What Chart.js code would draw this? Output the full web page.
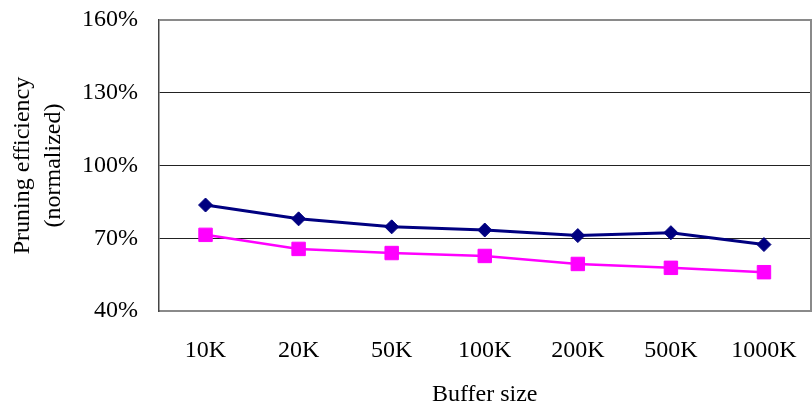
<!DOCTYPE html>
<html>
<head>
<meta charset="utf-8">
<script src="https://cdn.jsdelivr.net/npm/chart.js@4/dist/chart.umd.min.js"></script>
<style>
  html, body { margin: 0; padding: 0; background: #fff; overflow: hidden; }
  #frame { width: 812px; height: 414px; overflow: hidden; position: relative; }
  /* slightly wider than the frame so the plot's right edge sits at the frame edge */
  #wrap { width: 821px; height: 414px; position: relative; }
</style>
</head>
<body>
<div id="frame"><div id="wrap"><canvas id="c"></canvas></div></div>
<script>
// Buffer sizes on the x axis
const bufferSizes = ['10K', '20K', '50K', '100K', '200K', '500K', '1000K'];
// Normalized pruning efficiency (%) for the two runs
const seriesUpper = [83.7, 78.0, 74.7, 73.4, 71.1, 72.3, 67.4];
const seriesLower = [71.4, 65.6, 63.9, 62.7, 59.4, 57.8, 56.0];
// Y axis tick values (%)
const yTicks = [40, 70, 100, 130, 160];

const serif = 'Liberation Serif, Times New Roman, serif';

new Chart(document.getElementById('c'), {
  type: 'line',
  data: {
    labels: bufferSizes,
    datasets: [
      {
        label: 'Series 1',
        data: seriesUpper,
        borderColor: '#000080',
        backgroundColor: '#000080',
        borderWidth: 3,
        pointStyle: 'rectRot',
        pointRadius: 7,
        pointBorderWidth: 1,
        tension: 0
      },
      {
        label: 'Series 2',
        data: seriesLower,
        borderColor: '#FF00FF',
        backgroundColor: '#FF00FF',
        borderWidth: 2.5,
        pointStyle: 'rect',
        pointRadius: 9.5,
        pointBorderWidth: 1,
        tension: 0
      }
    ]
  },
  options: {
    responsive: true,
    maintainAspectRatio: false,
    animation: false,
    devicePixelRatio: 1,
    layout: { padding: { top: 20, right: 1, left: 0, bottom: 0 } },
    plugins: { legend: { display: false }, tooltip: { enabled: false } },
    scales: {
      x: {
        offset: true,
        grid: { display: false, drawTicks: false },
        border: { color: '#8a8a8a', width: 2 },
        ticks: {
          color: '#000',
          font: { family: serif, size: 24 },
          padding: 25,
          maxRotation: 0,
          autoSkip: false
        },
        title: {
          display: true,
          text: 'Buffer size',
          color: '#000',
          font: { family: serif, size: 24 },
          padding: { top: 8, bottom: 5 }
        },
        afterFit: (s) => { s.height = 103; s.paddingLeft = 0; s.paddingRight = 0; }
      },
      y: {
        min: 40,
        max: 160,
        afterBuildTicks: (s) => { s.ticks = yTicks.map(v => ({ value: v })); },
        grid: {
          drawTicks: false,
          color: (ctx) => ctx.tick && ctx.tick.value === 160 ? '#8a8a8a' : '#222',
          lineWidth: (ctx) => ctx.tick && ctx.tick.value === 160 ? 2 : 1
        },
        border: { color: '#444', width: 1.5 },
        ticks: {
          color: '#000',
          font: { family: serif, size: 24 },
          padding: 21,
          callback: (v) => v + '%'
        },
        title: {
          display: true,
          text: ['Pruning efficiency', '(normalized)'],
          color: '#000',
          font: { family: serif, size: 24, lineHeight: 1.3 },
          padding: { top: 7, bottom: 0 }
        },
        afterFit: (s) => { s.width = 159; s.paddingTop = 0; s.paddingBottom = 0; }
      },
      y2: {
        position: 'right',
        min: 40,
        max: 160,
        grid: { display: false, drawTicks: false },
        border: { color: '#8a8a8a', width: 2 },
        ticks: { display: false },
        afterFit: (s) => { s.width = 1; s.paddingTop = 0; s.paddingBottom = 0; }
      }
    }
  }
});
</script>
</body>
</html>
